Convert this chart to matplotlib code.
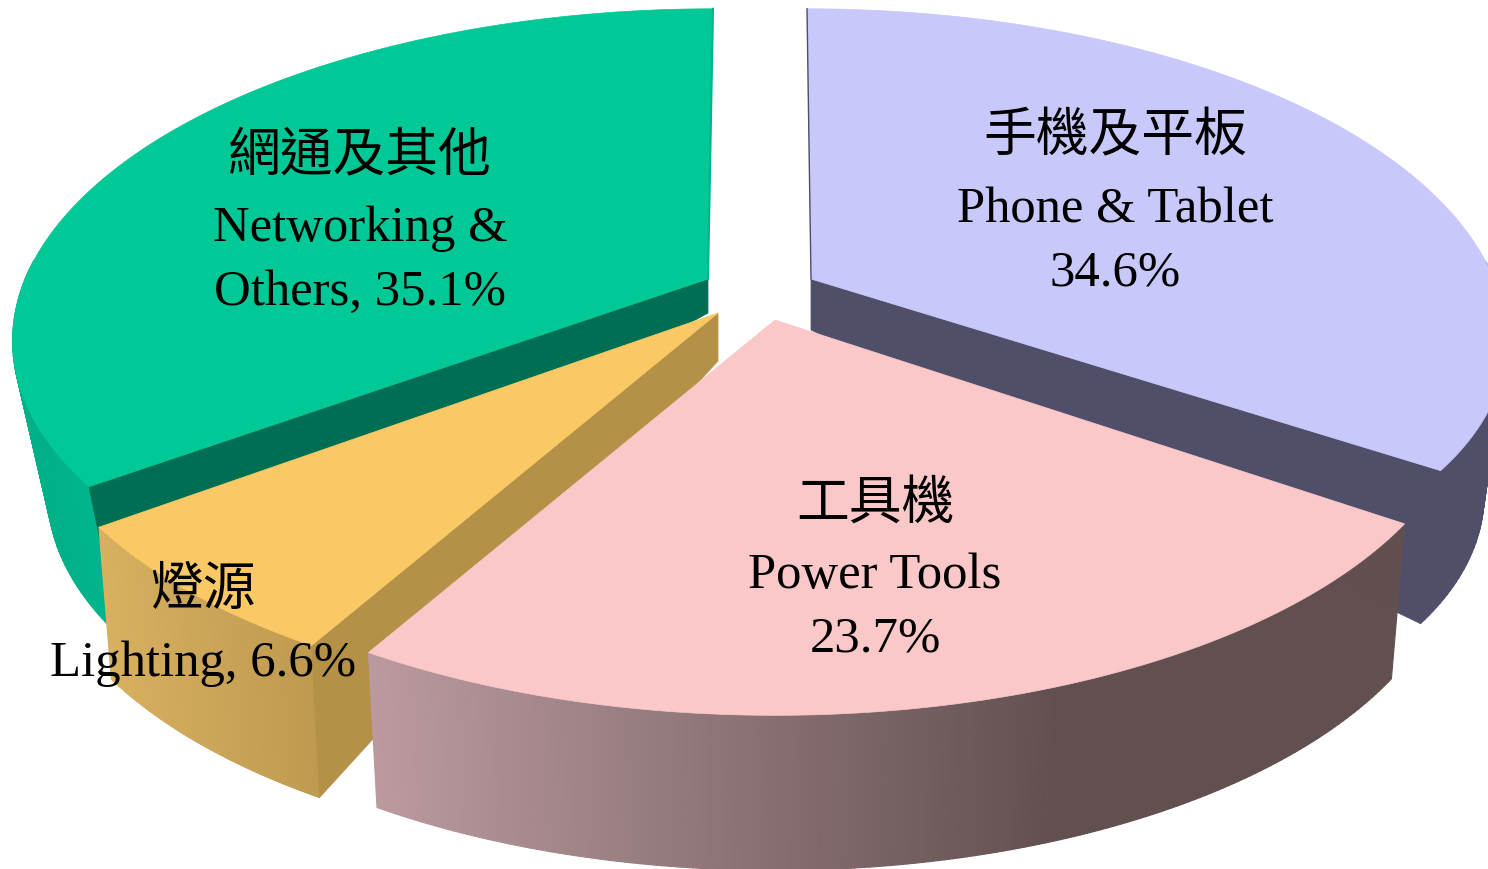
import numpy as np
import matplotlib
matplotlib.use("Agg")
import matplotlib.pyplot as plt
from matplotlib.collections import PolyCollection
from matplotlib.colors import to_rgb

# --- data ---
names_zh = ["手機及平板", "工具機", "燈源", "網通及其他"]
names_en = ["Phone & Tablet", "Power Tools", "Lighting", "Networking &"]
shares = [34.6, 23.7, 6.6, 35.1]
label_lines = [
    ["手機及平板", "Phone & Tablet", "34.6%"],
    ["工具機", "Power Tools", "23.7%"],
    ["燈源", "Lighting, 6.6%"],
    ["網通及其他", "Networking &", "Others, 35.1%"],
]

# --- style / layout ---
top_colors = ["#C8C8FA", "#FAC8C8", "#FAC864", "#00C896"]
inner_colors = ["#4F4F69", None, "#B49146", "#006E53"]
outer_left = ["#4F4F69", "#BC9BA0", "#D8B060", "#00AE84"]
outer_right = ["#4F4F69", "#625050", "#BE9A50", "#00B48C"]
grad_span = [(800, 1400), (372, 1050), (110, 320), (20, 110)]
apex = [(811, 280), (775, 321), (718, 314), (708, 280)]
apex_h = [51, 50, 48, 34]
rim_h = [153, 155, 152, 150]
shrink = [0.032, 0.021, 0.02, 0.05]
lean = [-4, 0, 0, 5]
front = [0.94, 1.0, 1.0, 0.97]
draw_order = [0, 3, 2, 1]
label_xy = [
    [(1115, 138), (1115, 210), (1115, 273)],
    [(875, 505), (875, 576), (875, 639)],
    [(203, 592), (203, 664)],
    [(360, 158), (360, 229), (360, 293)],
]
A, B, K = 683.0, 321.0, 0.188
FONT = ["Liberation Serif", "Noto Sans CJK TC"]

fig = plt.figure(figsize=(14.88, 8.7), dpi=100, facecolor="white")
ax = fig.add_axes([0, 0, 1, 1])
ax.set_xlim(0, 1488)
ax.set_ylim(870, 0)
ax.axis("off")


def rim(theta, i, h=0.0, sh=0.0):
    """Perspective-projected disc rim at clockwise angle theta from 12 o'clock."""
    u, v = np.sin(theta), -np.cos(theta)
    w = 1 - K * v
    fac = 1 + (front[i] - 1) * np.clip(v / 0.57, 0, 1)
    x = apex[i][0] + (1 - sh) * A * u / w + lean[i] * np.clip(-v, 0, 1)
    return x, apex[i][1] + fac * B * v / w + h


edges = np.radians(np.concatenate([[0], np.cumsum(shares)]) * 3.6)

for z, i in enumerate(draw_order):
    t0, t1 = edges[i], edges[i + 1]
    ts = np.linspace(t0, t1, 160)
    c = apex[i]
    xt, yt = rim(ts, i)
    xb, yb = rim(ts, i, rim_h[i], shrink[i])

    # outer wall (only the part of the rim turned toward the viewer)
    quads, cols = [], []
    c0, c1 = np.array(to_rgb(outer_left[i])), np.array(to_rgb(outer_right[i]))
    for j in range(len(ts) - 1):
        if -np.cos(ts[j]) < -0.05 and -np.cos(ts[j + 1]) < -0.05:
            continue
        quads.append([(xt[j], yt[j]), (xt[j + 1], yt[j + 1]), (xb[j + 1], yb[j + 1]), (xb[j], yb[j])])
        f = np.clip(((xb[j] + xb[j + 1]) / 2 - grad_span[i][0]) / (grad_span[i][1] - grad_span[i][0]), 0, 1)
        cols.append(c0 + (c1 - c0) * f)
    ax.add_collection(PolyCollection(quads, facecolors=cols, edgecolors=cols, linewidths=0.8, zorder=z * 3 + 1))

    # radial wall facing the viewer
    if inner_colors[i] is not None:
        edge = t1 if i == 0 else t0
        xe, ye = rim(edge, i)
        xf, yf = rim(edge, i, rim_h[i], shrink[i])
        ax.fill([c[0], xe, xf, c[0]], [c[1], ye, yf, c[1] + apex_h[i]],
                color=inner_colors[i], lw=0.5, zorder=z * 3 + 2)

    # top face
    ax.fill(np.r_[c[0], xt], np.r_[c[1], yt], color=top_colors[i], lw=0.5, zorder=z * 3 + 3)

# thin slivers along the inner gap edges
x0, y0 = rim(edges[0], 0)
ax.plot([apex[0][0], x0], [apex[0][1], y0], color="#4F4F69", lw=1.0, zorder=3.5)
x3, y3 = rim(edges[4], 3)
ax.plot([apex[3][0], x3], [apex[3][1], y3], color="#00B48C", lw=1.5, zorder=6.5)

for lines, xys in zip(label_lines, label_xy):
    for s, (x, y) in zip(lines, xys):
        cjk = not s.isascii()
        ax.text(x, y, s, ha="center", va="center", color="black",
                family=FONT, fontsize=38 if cjk else 36.5, zorder=30)

fig.savefig("out.png", dpi=100, facecolor="white")
